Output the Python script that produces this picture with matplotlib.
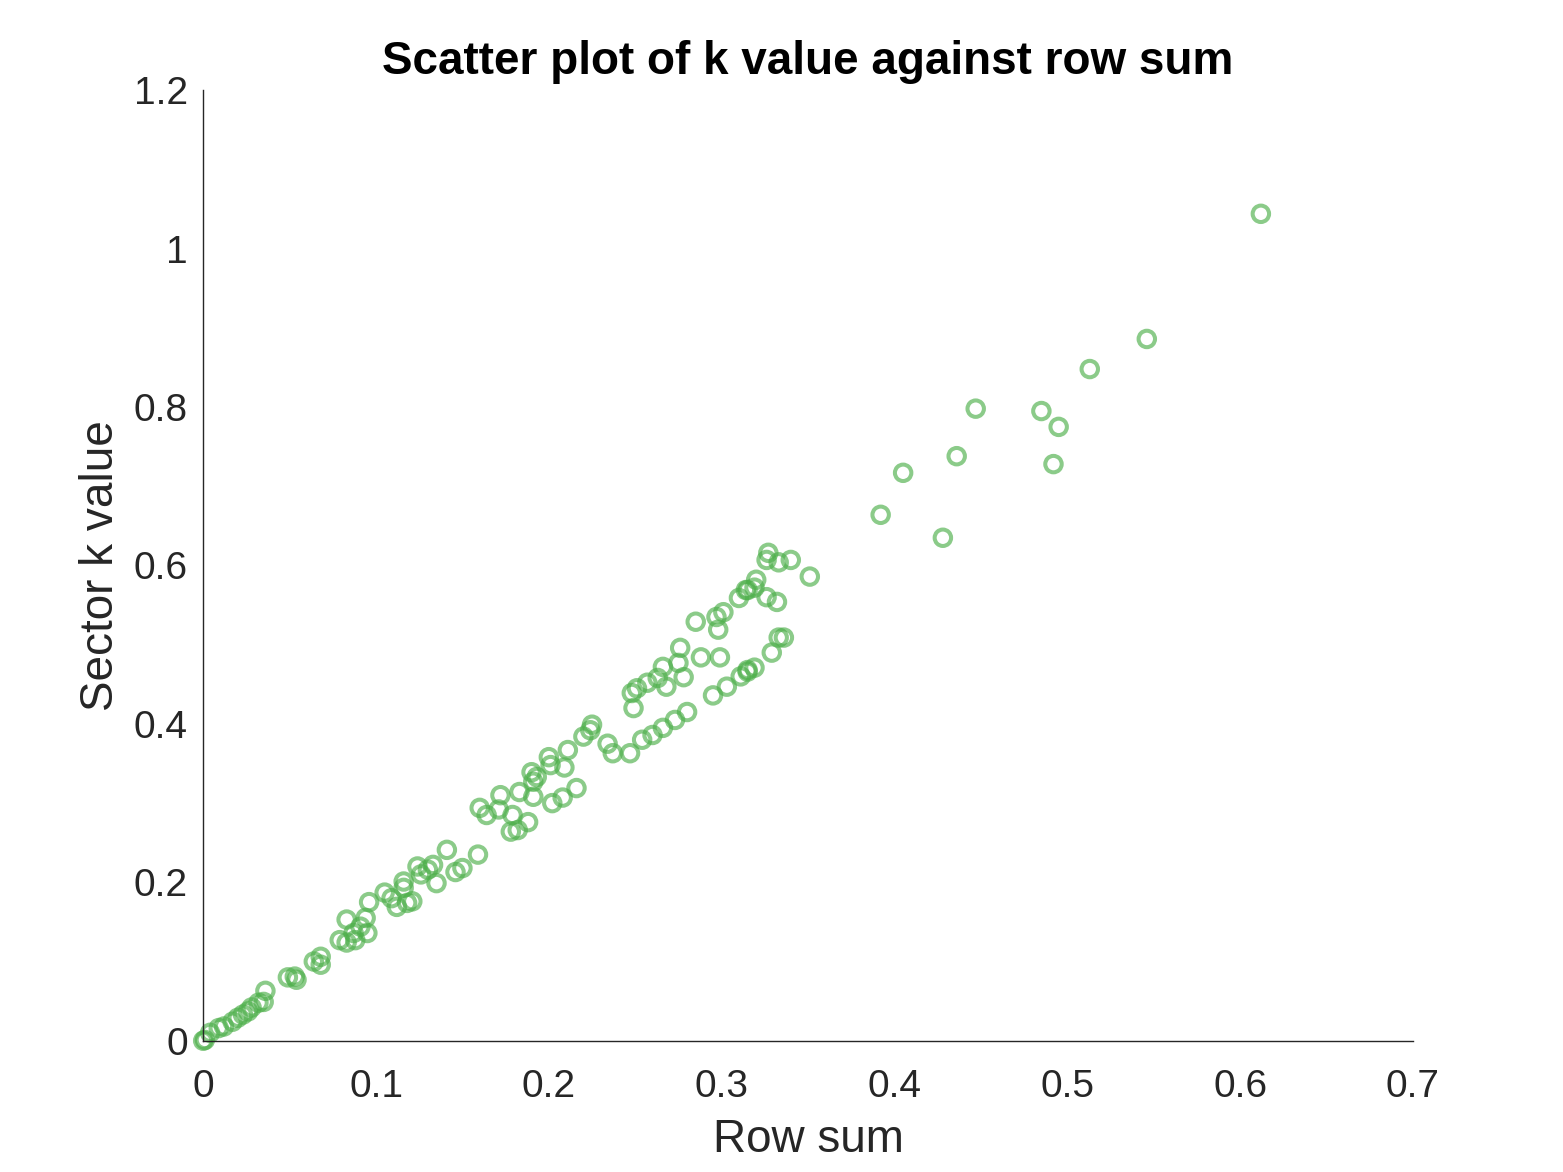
import matplotlib.pyplot as plt

plt.rcParams['font.family'] = ['Liberation Sans', 'DejaVu Sans']

# row sum (x) and sector k value (y)
row_sum = [
    0.000, 0.001, 0.004, 0.009, 0.012, 0.017, 0.020, 0.023, 0.026, 0.028,
    0.032, 0.036, 0.035, 0.049, 0.054, 0.053, 0.064, 0.068, 0.068,
    0.083, 0.083, 0.079, 0.087, 0.091, 0.094, 0.095, 0.088, 0.096,
    0.105, 0.109, 0.112, 0.116, 0.118, 0.121, 0.116,
    0.124, 0.126, 0.130, 0.133, 0.135, 0.141, 0.146, 0.150, 0.159,
    0.160, 0.164, 0.172, 0.171, 0.179, 0.178, 0.182, 0.188, 0.183, 0.190,
    0.193, 0.191, 0.191, 0.200, 0.201, 0.202, 0.208, 0.209, 0.211, 0.216,
    0.220, 0.224, 0.225,
    0.234, 0.237, 0.247, 0.254, 0.260, 0.266, 0.273, 0.280, 0.249, 0.248,
    0.251, 0.257, 0.263, 0.266, 0.268, 0.275, 0.276, 0.278, 0.285, 0.288,
    0.295, 0.303, 0.311, 0.315, 0.315, 0.319, 0.299, 0.297, 0.301, 0.298,
    0.310, 0.314, 0.315, 0.320, 0.319, 0.326, 0.332, 0.329, 0.333, 0.336,
    0.327, 0.326, 0.333, 0.340, 0.351,
    0.392, 0.405, 0.428, 0.436, 0.447, 0.485, 0.492, 0.495, 0.513, 0.546,
    0.612,
]
k_value = [
    0.000, 0.001, 0.010, 0.016, 0.018, 0.024, 0.029, 0.033, 0.037, 0.042,
    0.048, 0.063, 0.049, 0.080, 0.077, 0.081, 0.100, 0.106, 0.096,
    0.153, 0.124, 0.127, 0.136, 0.144, 0.155, 0.136, 0.127, 0.175,
    0.187, 0.180, 0.169, 0.193, 0.174, 0.176, 0.201,
    0.220, 0.210, 0.216, 0.222, 0.199, 0.241, 0.213, 0.218, 0.235,
    0.294, 0.285, 0.310, 0.292, 0.285, 0.264, 0.266, 0.276, 0.314, 0.339,
    0.333, 0.327, 0.308, 0.358, 0.348, 0.300, 0.307, 0.345, 0.367, 0.319,
    0.384, 0.392, 0.399,
    0.375, 0.363, 0.363, 0.380, 0.386, 0.395, 0.405, 0.415, 0.420, 0.439,
    0.445, 0.452, 0.458, 0.472, 0.447, 0.477, 0.496, 0.459, 0.529, 0.484,
    0.436, 0.447, 0.460, 0.468, 0.466, 0.471, 0.484, 0.535, 0.541, 0.519,
    0.559, 0.569, 0.569, 0.582, 0.572, 0.560, 0.554, 0.490, 0.509, 0.509,
    0.616, 0.607, 0.604, 0.607, 0.586,
    0.664, 0.717, 0.635, 0.738, 0.798, 0.795, 0.728, 0.775, 0.848, 0.886,
    1.044,
]

fig = plt.figure(figsize=(15.63, 11.72), dpi=100)
ax = fig.add_axes([0.13, 0.112, 0.774, 0.811])

ax.scatter(row_sum, k_value, s=140, facecolors='none', edgecolors='#4daf4a',
           linewidths=2.9, alpha=0.65, clip_on=False)

ax.set_xlim(0, 0.7)
ax.set_ylim(0, 1.2)
ax.set_xticks([0, 0.1, 0.2, 0.3, 0.4, 0.5, 0.6, 0.7])
ax.set_xticklabels(['0', '0.1', '0.2', '0.3', '0.4', '0.5', '0.6', '0.7'])
ax.set_yticks([0, 0.2, 0.4, 0.6, 0.8, 1, 1.2])
ax.set_yticklabels(['0', '0.2', '0.4', '0.6', '0.8', '1', '1.2'])
ax.tick_params(length=0, labelsize=28, colors='#262626')
ax.tick_params(axis='y', pad=11)
ax.tick_params(axis='x', pad=20)

for side in ['top', 'right']:
    ax.spines[side].set_visible(False)
for side in ['left', 'bottom']:
    ax.spines[side].set_color('#262626')
    ax.spines[side].set_linewidth(1.0)

ax.set_xlabel('Row sum', fontsize=33, color='#262626', labelpad=10)
ax.set_ylabel('Sector k value', fontsize=33, color='#262626', labelpad=8)
ax.set_title('Scatter plot of k value against row sum', fontsize=33,
             fontweight='bold', color='black', pad=12)

fig.savefig('out.png', dpi=100)
